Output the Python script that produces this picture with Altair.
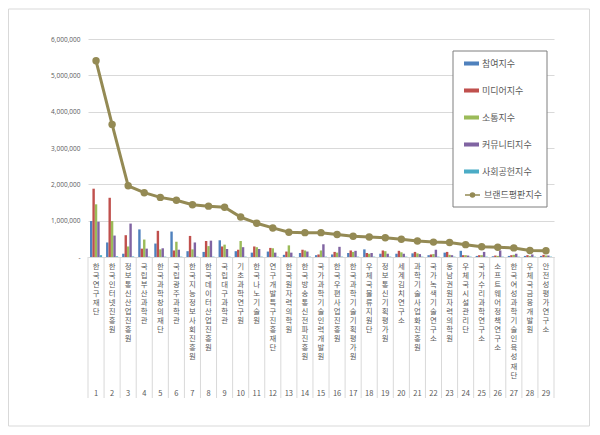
import altair as alt
import pandas as pd

# institutions in rank order
names = [
    "한국연구재단", "한국인터넷진흥원", "정보통신산업진흥원", "국립부산과학관",
    "한국과학창의재단", "국립광주과학관", "한국지능정보사회진흥원", "한국데이터산업진흥원",
    "국립대구과학관", "기초과학연구원", "한국나노기술원", "연구개발특구진흥재단",
    "한국원자력의학원", "한국방송통신전파진흥원", "국가과학기술인력개발원", "한국우편사업진흥원",
    "한국과학기술기획평가원", "우체국물류지원단", "정보통신기획평가원", "세계김치연구소",
    "과학기술사업화진흥원", "국가녹색기술연구소", "동남권원자력의학원", "우체국시설관리단",
    "국가수리과학연구소", "소프트웨어정책연구소", "한국여성과학기술인육성재단", "우체국금융개발원",
    "안전성평가연구소",
]
ranks = list(range(1, 30))

series = ["참여지수", "미디어지수", "소통지수", "커뮤니티지수", "사회공헌지수"]
colors = ["#4F81BD", "#C0504D", "#9BBB59", "#8064A2", "#4BACC6"]

participation = [990000, 400000, 90000, 760000, 370000, 700000, 160000, 140000, 460000, 160000,
                 120000, 150000, 60000, 110000, 50000, 70000, 110000, 210000, 90000, 90000,
                 100000, 50000, 120000, 170000, 30000, 20000, 30000, 30000, 30000]
media = [1880000, 1630000, 600000, 230000, 720000, 180000, 580000, 440000, 290000, 200000,
         290000, 250000, 150000, 200000, 70000, 140000, 180000, 110000, 180000, 170000,
         140000, 70000, 140000, 50000, 50000, 40000, 50000, 50000, 60000]
communication = [1450000, 990000, 290000, 480000, 210000, 420000, 210000, 300000, 340000, 440000,
                 270000, 240000, 320000, 180000, 180000, 120000, 140000, 90000, 160000, 130000,
                 100000, 80000, 60000, 50000, 50000, 30000, 60000, 30000, 40000]
community = [970000, 590000, 920000, 230000, 240000, 200000, 400000, 450000, 220000, 270000,
             220000, 120000, 120000, 150000, 350000, 280000, 170000, 110000, 90000, 90000,
             80000, 200000, 50000, 40000, 140000, 180000, 90000, 70000, 40000]
contribution = [50000, 20000, 15000, 10000, 10000, 10000, 10000, 10000, 10000, 10000,
                10000, 10000, 10000, 10000, 10000, 10000, 10000, 10000, 10000, 10000,
                10000, 10000, 10000, 10000, 10000, 10000, 10000, 10000, 10000]
brand = [5400000, 3650000, 1960000, 1770000, 1640000, 1560000, 1440000, 1400000, 1370000, 1100000,
         930000, 800000, 680000, 670000, 670000, 620000, 570000, 550000, 530000, 490000,
         440000, 410000, 400000, 340000, 280000, 270000, 250000, 180000, 170000]

y_ticks = [0, 1000000, 2000000, 3000000, 4000000, 5000000, 6000000]

GREY = "#595959"
LINE = "#948A54"
KR = "Noto Sans CJK KR"

bar_rows = []
for values, s in zip([participation, media, communication, community, contribution], series):
    for n, v in zip(names, values):
        bar_rows.append({"name": n, "series": s, "value": v})
bars_df = pd.DataFrame(bar_rows)
line_df = pd.DataFrame({"name": names, "rank": ranks, "value": brand, "kind": "브랜드평판지수"})
one = pd.DataFrame({"a": [0]})

# names written top to bottom, one character per line
x_enc = alt.X(
    "name:N",
    sort=names,
    scale=alt.Scale(domain=names, paddingInner=0, paddingOuter=0),
    axis=alt.Axis(
        title=None,
        labelExpr="split(datum.label, '')",
        labelAngle=0,
        labelAlign="center",
        labelBaseline="top",
        labelFont=KR,
        labelFontSize=7.4,
        labelLineHeight=9.1,
        labelColor=GREY,
        labelOverlap=False,
        labelPadding=5,
        ticks=False,
        domainColor="#d9d9d9",
        grid=False,
    ),
)
y_enc = alt.Y(
    "value:Q",
    scale=alt.Scale(domain=[0, 6000000], nice=False),
    axis=alt.Axis(
        title=None,
        values=y_ticks,
        labelExpr="datum.value == 0 ? '-' : format(datum.value, ',')",
        labelFont="Open Sans",
        labelFontSize=6.5,
        labelColor=GREY,
        labelPadding=8,
        labelOverlap=False,
        ticks=False,
        domain=False,
        gridColor="#d9d9d9",
    ),
)

frame = alt.Chart(one).mark_rect(fillOpacity=0, stroke="#d9d9d9", strokeWidth=1).encode(
    x=alt.value(-79.5), x2=alt.value(501.5), y=alt.value(-30), y2=alt.value(387)
)

# cell separators under the category axis
cells = alt.Chart(line_df).mark_rule(color="#d9d9d9", strokeWidth=1).encode(
    x=alt.X("name:N", sort=names, bandPosition=0),
    y=alt.value(218),
    y2=alt.value(359),
)
cells_end = alt.Chart(line_df.tail(1)).mark_rule(color="#d9d9d9", strokeWidth=1).encode(
    x=alt.X("name:N", sort=names, bandPosition=1),
    y=alt.value(218),
    y2=alt.value(359),
)
rank_text = alt.Chart(line_df).mark_text(
    font=KR, fontSize=7.5, color=GREY, baseline="middle", align="center"
).encode(
    x=alt.X("name:N", sort=names),
    y=alt.value(354.5),
    text="rank:N",
)

bars = alt.Chart(bars_df).mark_bar().encode(
    x=x_enc,
    xOffset=alt.XOffset(
        "series:N", sort=series,
        scale=alt.Scale(domain=series, paddingInner=0, paddingOuter=0.83),
    ),
    y=y_enc,
    color=alt.Color(
        "series:N",
        scale=alt.Scale(domain=series, range=colors),
        legend=alt.Legend(
            title=None,
            orient="none",
            legendX=376,
            legendY=17,
            padding=0,
            symbolType="M-1,-0.27H1V0.27H-1Z",
            symbolSize=225,
            symbolStrokeWidth=0,
            labelFont=KR,
            labelFontSize=9,
            labelColor=GREY,
            labelOffset=3,
            rowPadding=14,
        ),
    ),
)

line = alt.Chart(line_df).mark_line(strokeWidth=3).encode(
    x=x_enc,
    y=y_enc,
    stroke=alt.Stroke(
        "kind:N",
        scale=alt.Scale(domain=["브랜드평판지수"], range=[LINE]),
        legend=alt.Legend(
            title=None,
            orient="none",
            legendX=376,
            legendY=147.5,
            padding=0,
            symbolType="M-1,0H1M0.27,0A0.27,0.27,0,1,1,-0.27,0A0.27,0.27,0,1,1,0.27,0Z",
            symbolSize=225,
            symbolStrokeWidth=1.5,
            symbolFillColor=LINE,
            labelFont=KR,
            labelFontSize=9,
            labelColor=GREY,
            labelOffset=3,
        ),
    ),
)

points = alt.Chart(line_df).mark_point(filled=True, size=55, opacity=1, color=LINE).encode(
    x=x_enc,
    y=y_enc,
)

legend_box = alt.Chart(one).mark_rect(fill="white", stroke="#7f7f7f", strokeWidth=1).encode(
    x=alt.value(365), x2=alt.value(459), y=alt.value(12), y2=alt.value(168)
)

chart = (
    alt.layer(frame, cells, cells_end, rank_text, bars, line, points, legend_box)
    .properties(
        width=466,
        height=218,
        autosize=alt.AutoSizeParams(type="none"),
        padding={"left": 80, "top": 31, "right": 36, "bottom": 170},
        background="white",
    )
    .configure_view(stroke=None)
)

chart.save("out.html", embed_options={"renderer": "svg", "actions": False})
